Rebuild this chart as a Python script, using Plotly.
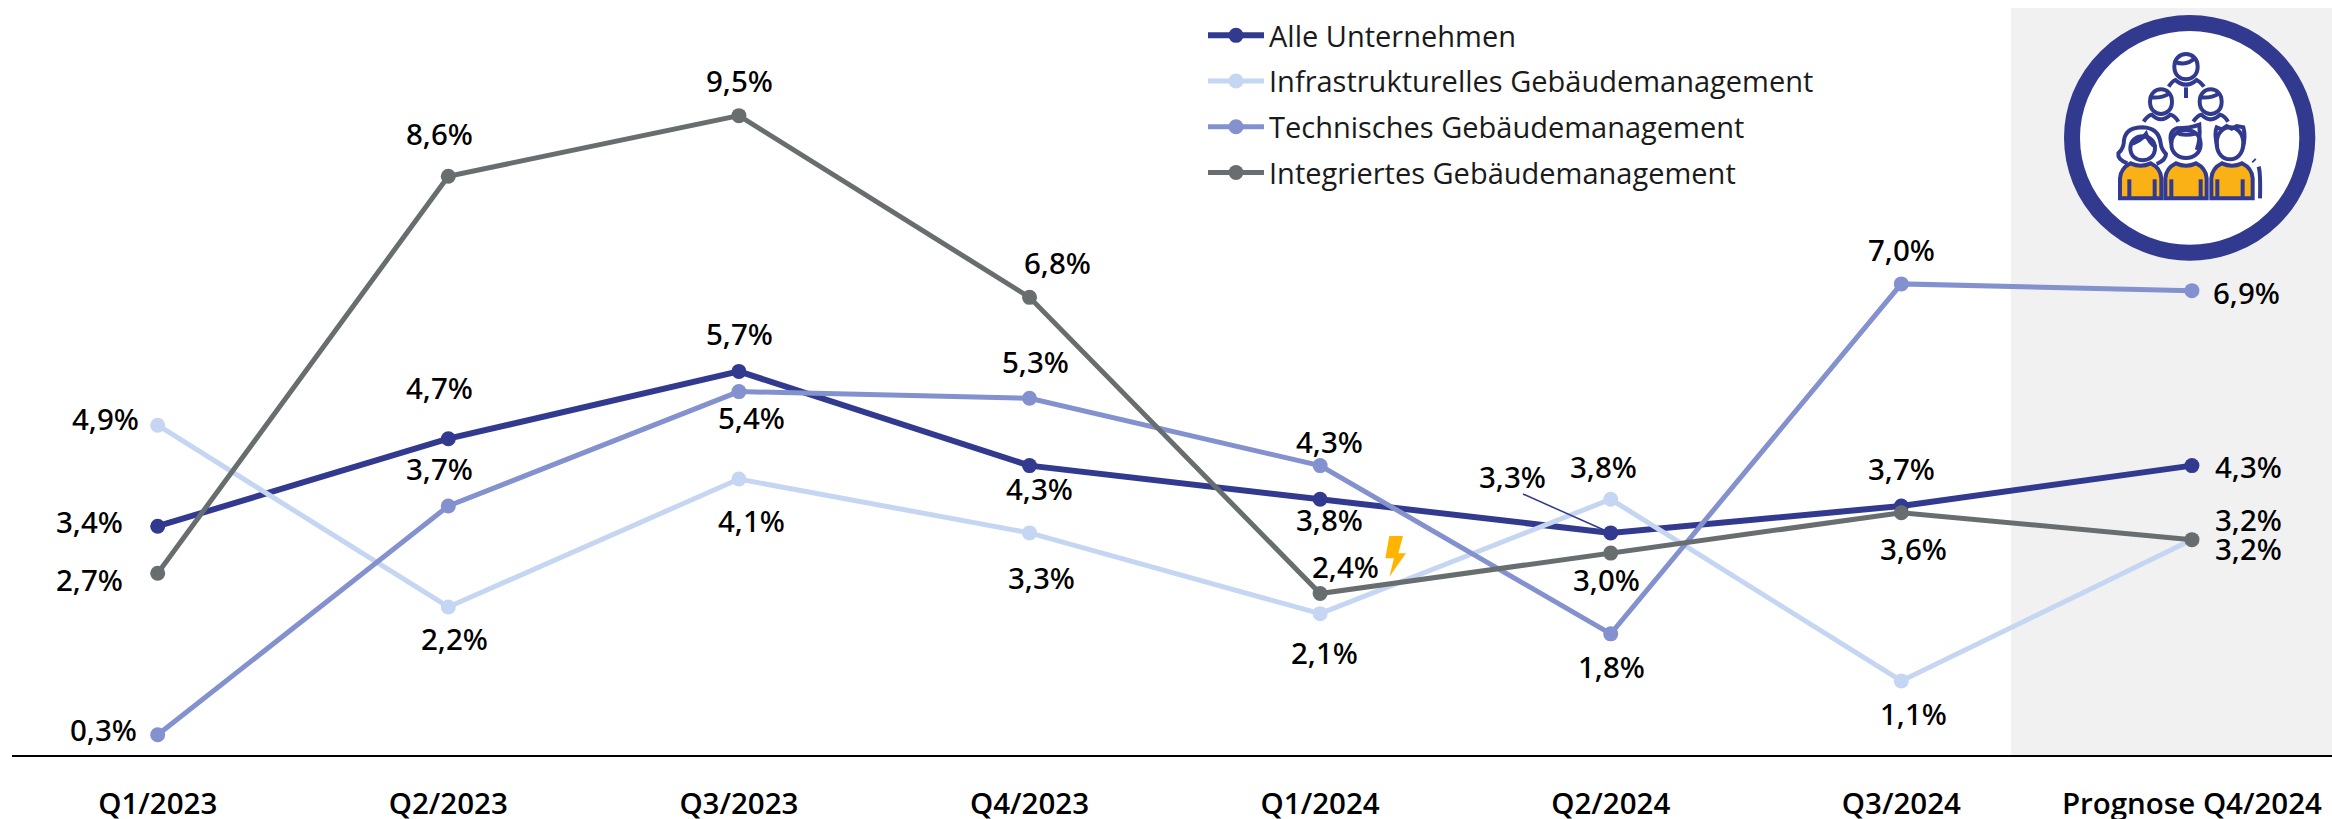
import re
import plotly.graph_objects as go

# ---------- data ----------
quarters = ["Q1/2023", "Q2/2023", "Q3/2023", "Q4/2023", "Q1/2024", "Q2/2024", "Q3/2024", "Prognose Q4/2024"]
alle = [3.4, 4.7, 5.7, 4.3, 3.8, 3.3, 3.7, 4.3]
infra = [4.9, 2.2, 4.1, 3.3, 2.1, 3.8, 1.1, 3.2]
technik = [0.3, 3.7, 5.4, 5.3, 4.3, 1.8, 7.0, 6.9]
integriert = [2.7, 8.6, 9.5, 6.8, 2.4, 3.0, 3.6, 3.2]
names = ["Alle Unternehmen", "Infrastrukturelles Gebäudemanagement",
         "Technisches Gebäudemanagement", "Integriertes Gebäudemanagement"]

# ---------- styles & label offsets (px: dx right, dy up) ----------
colors = ["#313A8F", "#C5D6F3", "#8391CF", "#686E6F"]
off_alle = [(-68, 5), (-9, 51), (1, 38), (10, -23), (9, -20), (-98, 56), (0, 37), (57, -1)]
off_infra = [(-52, 7), (6, -32), (13, -41), (12, -45), (4, -39), (-7, 33), (12, -33), (57, -9)]
off_tech = [(-54, 5), (-9, 37), (13, -26), (6, 37), (9, 24), (1, -33), (0, 34), (55, -2)]
off_integ = [(-68, -6), (-9, 43), (1, 35), (28, 35), (25, 27), (-4, -26), (12, -36), (57, 20)]

W, H = 2332, 819
ML, AXIS_Y = 12, 755
FONT = "Open Sans"
NAVY, ORANGE = "#313A8F", "#F9B115"


def px(x):
    return (x - ML) / (W - ML)


def py(y):
    return 1 - y / AXIS_Y


def path(d, ox=0.0, oy=0.0, k=1.0):
    """Turn a pixel path into paper coordinates."""
    toks = re.findall(r"[MLQCZ]|-?[\d.]+", d)
    out, isx = [], True
    for t in toks:
        if t in "MLQCZ":
            out.append(t)
            isx = True
        else:
            v = float(t)
            out.append(f"{px(ox + v * k):.6f}" if isx else f"{py(oy + v * k):.6f}")
            isx = not isx
    res = ""
    for t in out:
        res += t if t in "MLQCZ" else t + " "
    return res


fig = go.Figure()
series = [alle, infra, technik, integriert]
offs = [off_alle, off_infra, off_tech, off_integ]
widths = [6, 5, 5, 5]
for i, (vals, name) in enumerate(zip(series, names)):
    fig.add_trace(go.Scatter(
        x=quarters, y=vals, name=name, mode="lines+markers",
        legendgroup=name, cliponaxis=False,
        line=dict(color=colors[i], width=widths[i]),
        marker=dict(color=colors[i], size=15, line=dict(width=0)),
    ))

ann = []
for vals, off in zip(series, offs):
    for q, v, (dx, dy) in zip(quarters, vals, off):
        ann.append(dict(x=q, y=v, xref="x", yref="y", text=f"{v:.1f}".replace(".", ",") + "%",
                        showarrow=False, xshift=dx, yshift=dy, xanchor="center", yanchor="middle",
                        font=dict(family="Noto Sans", size=29.5, color="#000000", weight=500)))

shapes = [dict(type="rect", xref="paper", yref="paper", x0=px(2011), x1=1, y0=py(755), y1=py(8),
               fillcolor="#F1F1F1", line=dict(width=0), layer="below"),
          dict(type="line", xref="paper", yref="paper", x0=px(1523), y0=py(494), x1=px(1604), y1=py(530),
               line=dict(color=NAVY, width=1.5)),
          dict(type="path", xref="paper", yref="paper", layer="above", fillcolor="#FFB400", line=dict(width=0),
               path=path("M418 318 L459 318 L445 370 L468 370 L418 440 L432 385 L406 385 Z", 1250, 430, 1 / 3)),
          dict(type="circle", xref="paper", yref="paper", x0=px(2072), x1=px(2307.3), y0=py(23), y1=py(252.7),
               fillcolor="#FFFFFF", line=dict(color=NAVY, width=16))]


def icon(d, fill=None, lw=4):
    s = dict(type="path", xref="paper", yref="paper", path=path(d, 2000, 0, 1 / 3),
             line=dict(color=NAVY, width=lw))
    if fill:
        s["fillcolor"] = fill
    shapes.append(s)


def oval(cx, cy, rx, ry):
    icon(f"M{cx - rx} {cy} C{cx - rx} {cy - ry * 1.33} {cx + rx} {cy - ry * 1.33} {cx + rx} {cy} "
         f"C{cx + rx} {cy + ry * 1.33} {cx - rx} {cy + ry * 1.33} {cx - rx} {cy} Z")


# bodies
for x0 in (360, 496, 634):
    b = 124
    icon(f"M{x0} 595 L{x0} 535 Q{x0 + 2} 505 {x0 + 32} 490 Q{x0 + b / 2} 504 {x0 + b - 32} 490 "
         f"Q{x0 + b - 2} 505 {x0 + b} 535 L{x0 + b} 595 Z", fill=ORANGE)
for x in (388, 464, 514, 602, 652, 728):
    icon(f"M{x} 538 L{x} 595", lw=4)
icon("M776 500 Q782 520 780 595", lw=4)
icon("M760 480 L764 484", lw=5)
# upper row
oval(558, 200, 35, 38)
icon("M524 186 Q562 198 582 176")
icon("M506 260 Q516 244 526 240 Q558 268 590 240 Q602 246 612 260")
icon("M558 262 L558 294", lw=4)
for cx in (483, 632):
    oval(cx, 305, 33, 37)
    icon(f"M{cx - 32} 292 Q{cx} 296 {cx + 26} 280")
    icon(f"M{cx - 52} 365 Q{cx - 40} 346 {cx - 28} 344 Q{cx} 372 {cx + 28} 344 Q{cx + 42} 348 {cx + 52} 365")
# woman
icon("M382 490 Q352 478 355 460 Q372 445 372 420 Q378 382 428 382 Q476 384 482 430 Q484 448 498 462 Q498 480 470 492")
oval(428, 445, 37, 36)
icon("M390 432 Q420 426 438 402 Q446 426 468 442")
# middle man
oval(558, 432, 44, 42)
icon("M514 430 Q505 395 530 385 Q570 385 598 374 Q602 420 590 450")
icon("M530 398 Q550 410 590 400")
# right man
oval(690, 430, 40, 48)
icon("M652 440 Q642 400 650 382 L665 388 L680 378 L695 386 L710 378 L730 382 Q738 410 728 445")
fig.update_layout(
    width=W, height=H, autosize=False,
    margin=dict(l=ML, r=0, t=0, b=H - AXIS_Y, pad=0, autoexpand=False),
    paper_bgcolor="#FFFFFF", plot_bgcolor="rgba(0,0,0,0)",
    font=dict(family=FONT, color="#000000"),
    showlegend=True,
    legend=dict(x=px(1203), y=py(10), xanchor="left", yanchor="top", bgcolor="rgba(0,0,0,0)",
                font=dict(family=FONT, size=29, color="#1A1A1A"),
                itemwidth=56, tracegroupgap=5, traceorder="grouped"),
    xaxis=dict(type="category", categoryorder="array", categoryarray=quarters, automargin=False,
               range=[-0.5014, 7.482], showgrid=False, zeroline=False, showline=True,
               linecolor="#000000", linewidth=2, ticks="outside", ticklen=22, tickcolor="rgba(0,0,0,0)",
               tickfont=dict(family=FONT, size=29.5, color="#000000", weight=600), tickangle=0),
    yaxis=dict(range=[0, AXIS_Y / 67.3], visible=False, fixedrange=True, automargin=False),
    annotations=ann, shapes=shapes,
)
fig.write_html("out.html", config=dict(displayModeBar=False),
               post_script="document.body.style.margin='0';document.body.style.overflow='hidden';")
